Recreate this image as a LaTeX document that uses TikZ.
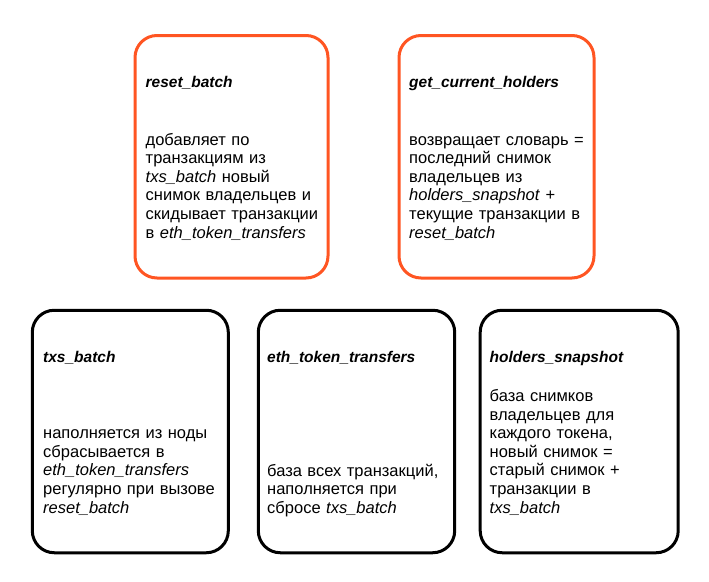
\documentclass[tikz,border=0pt]{standalone}
\usepackage{fontspec}
\setmainfont{Liberation Sans}
\usetikzlibrary{positioning}
\definecolor{boxorange}{HTML}{FF5522}
\tikzset{%
	card/.style       = {draw, rectangle, rounded corners=22pt, line width=3pt, inner sep=0pt, minimum height=242.5pt},
	topcard/.style    = {card, draw=boxorange},
	bottomcard/.style = {card, draw=black},
	cardtitle/.style  = {anchor=base west, inner sep=0pt, font=\fontsize{15.5}{18.6}\selectfont\bfseries\itshape},
	cardtext/.style   = {anchor=base west, inner sep=0pt, align=left, text width=185pt, font=\fontsize{16.5}{18.6}\selectfont},
}

\begin{document}
\begin{tikzpicture}[x=1pt,y=-1pt]
	\useasboundingbox (0,0) rectangle (709,581);
	
	% top row
	\node[topcard, minimum width=193pt] (reset) at (231.5,156.75) {};
	\node[topcard, minimum width=195pt] (holders) at (496.5,156.75) {};
	
	\node[cardtitle] (resettitle) at (145.5,87.7) {reset\_batch};
	\node[cardtext] (resettext) at (145.5,145) {добавляет по\\транзакциям из\\\textit{txs\_batch} новый\\снимок владельцев и\\скидывает транзакции\\в \textit{eth\_token\_transfers}};
	
	\node[cardtitle] (holderstitle) at (409,87.7) {get\_current\_holders};
	\node[cardtext] (holderstext) at (409,145) {возвращает словарь =\\последний снимок\\владельцев из\\\textit{holders\_snapshot} +\\текущие транзакции в\\\textit{reset\_batch}};
	
	% bottom row
	\node[bottomcard, minimum width=196pt] (txs) at (130.3,431.5) {};
	\node[bottomcard, minimum width=196.4pt] (eth) at (356.5,431.5) {};
	\node[bottomcard, minimum width=198pt] (snap) at (579.2,431.5) {};
	
	\node[cardtitle] (txstitle) at (43,362.8) {txs\_batch};
	\node[cardtext] (txstext) at (43,438.6) {наполняется из ноды\\сбрасывается в\\\textit{eth\_token\_transfers}\\регулярно при вызове\\\textit{reset\_batch}};
	
	\node[cardtitle] (ethtitle) at (267,362.8) {eth\_token\_transfers};
	\node[cardtext] (ethtext) at (267,476) {база всех транзакций,\\наполняется при\\сбросе \textit{txs\_batch}};
	
	\node[cardtitle] (snaptitle) at (489.5,362.8) {holders\_snapshot};
	\node[cardtext] (snaptext) at (489.5,401.4) {база снимков\\владельцев для\\каждого токена,\\новый снимок =\\старый снимок +\\транзакции в\\\textit{txs\_batch}};
	
\end{tikzpicture}
\end{document}
